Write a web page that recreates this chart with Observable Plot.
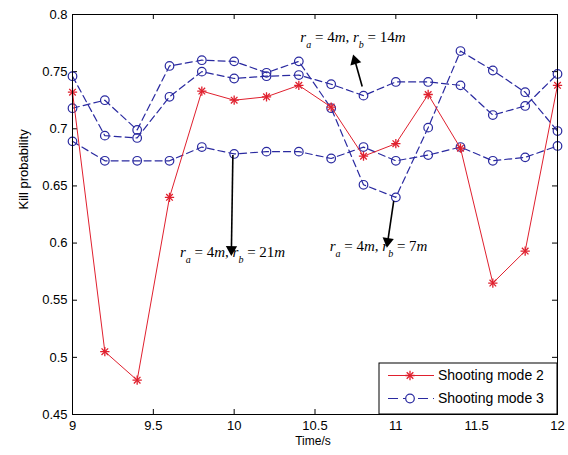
<!DOCTYPE html>
<html><head><meta charset="utf-8">
<script src="https://cdn.jsdelivr.net/npm/d3@7"></script>
<script src="https://cdn.jsdelivr.net/npm/@observablehq/plot@0.6"></script>
<style>html,body{margin:0;padding:0;background:#fff;} #chart{width:568px;height:455px;}</style>
</head><body><div id="chart"></div>
<script>
// ---- data ----
const times = [9, 9.2, 9.4, 9.6, 9.8, 10, 10.2, 10.4, 10.6, 10.8, 11, 11.2, 11.4, 11.6, 11.8, 12];
const mode2 = [0.732, 0.505, 0.480, 0.640, 0.733, 0.725, 0.728, 0.738, 0.719, 0.676, 0.687, 0.730, 0.683, 0.565, 0.593, 0.738];
const mode3_rb7 = [0.718, 0.725, 0.699, 0.755, 0.760, 0.759, 0.749, 0.759, 0.718, 0.651, 0.640, 0.701, 0.768, 0.751, 0.732, 0.698];
const mode3_rb14 = [0.746, 0.694, 0.692, 0.728, 0.750, 0.744, 0.746, 0.747, 0.739, 0.729, 0.741, 0.741, 0.738, 0.712, 0.720, 0.748];
const mode3_rb21 = [0.689, 0.672, 0.672, 0.672, 0.684, 0.678, 0.680, 0.680, 0.674, 0.684, 0.672, 0.677, 0.684, 0.672, 0.675, 0.685];
const xTicks = [9, 9.5, 10, 10.5, 11, 11.5, 12];
const yTicks = [0.45, 0.5, 0.55, 0.6, 0.65, 0.7, 0.75, 0.8];
const legendLabels = ["Shooting mode 2", "Shooting mode 3"];
const annRa = 4;
const annRb = [14, 21, 7];

// ---- layout / style ----
const W = 568, H = 455, mL = 72, mR = 11, mT = 14, mB = 41;
const plotW = W - mL - mR, plotH = H - mT - mB;
const RED = "#e0202e", BLUE = "#2a2aa0";

const rows2 = times.map((t, i) => ({t, v: mode2[i]}));
const rows3 = [
  ...times.map((t, i) => ({t, v: mode3_rb7[i], s: "rb7"})),
  ...times.map((t, i) => ({t, v: mode3_rb14[i], s: "rb14"})),
  ...times.map((t, i) => ({t, v: mode3_rb21[i], s: "rb21"}))
];
// annotation placement (data coordinates)
const annText = [
  {rb: annRb[0], x: 10.735, y: 0.780},
  {rb: annRb[1], x: 9.99, y: 0.592},
  {rb: annRb[2], x: 10.893, y: 0.597}
];
const annArrows = [
  {x1: 10.792, y1: 0.737, x2: 10.747, y2: 0.7595, rot: 344},
  {x1: 9.992, y1: 0.677, x2: 9.983, y2: 0.5945, rot: 181},
  {x1: 10.987, y1: 0.637, x2: 10.950, y2: 0.6015, rot: 188}
];
const fmt = d => String(d);

const svg = Plot.plot({
  width: W, height: H,
  marginLeft: mL, marginRight: mR, marginTop: mT, marginBottom: mB,
  x: {domain: [9, 12]},
  y: {domain: [0.45, 0.8]},
  style: {fontFamily: "'Liberation Sans', Arial, sans-serif", fontSize: "12px", background: "white", color: "black", overflow: "visible"},
  marks: [
    Plot.ruleX(xTicks, {insetTop: plotH - 5, stroke: "black"}),
    Plot.ruleX(xTicks, {insetBottom: plotH - 5, stroke: "black"}),
    Plot.ruleY(yTicks, {insetRight: plotW - 5, stroke: "black"}),
    Plot.ruleY(yTicks, {insetLeft: plotW - 5, stroke: "black"}),
    Plot.axisX(xTicks, {tickSize: 0, tickPadding: 6, label: null, tickFormat: fmt, fontSize: 13}),
    Plot.axisY(yTicks, {tickSize: 0, tickPadding: 5, label: null, tickFormat: fmt, fontSize: 13}),
    Plot.text(["Kill probability"], {frameAnchor: "left", rotate: -90, dx: -49, dy: -5, fontSize: 13}),
    Plot.text(["Time/s"], {frameAnchor: "bottom", lineAnchor: "top", dy: 22, dx: -2, fontSize: 12}),
    Plot.line(rows3, {x: "t", y: "v", z: "s", stroke: BLUE, strokeWidth: 1.2, strokeDasharray: "7,4"}),
    Plot.dot(rows3, {x: "t", y: "v", r: 4.3, stroke: BLUE, strokeWidth: 1.2, fill: "none"}),
    Plot.line(rows2, {x: "t", y: "v", stroke: RED, strokeWidth: 1}),
    Plot.dot(rows2, {x: "t", y: "v", symbol: "plus", r: 3.1, stroke: RED, strokeWidth: 1.3}),
    Plot.dot(rows2, {x: "t", y: "v", symbol: "times", r: 3.1, stroke: RED, strokeWidth: 1.3}),
    Plot.link(annArrows, {x1: "x1", y1: "y1", x2: "x2", y2: "y2", stroke: "black", strokeWidth: 1.6}),
    Plot.dot(annArrows, {x: "x2", y: "y2", symbol: "triangle", rotate: "rot", r: 4.2, fill: "black", stroke: "none"}),
    Plot.text(annText, {x: "x", y: "y", text: d => String(d.rb), ariaDescription: "annotation", fontFamily: "'Liberation Serif', 'Times New Roman', serif", fontSize: 15}),
    Plot.frame({stroke: "black", strokeWidth: 1})
  ]
});

// math-style annotation text: r_a = 4m, r_b = Nm
d3.select(svg).selectAll('g[aria-description="annotation"] text').each(function () {
  const rb = this.textContent;
  const t = d3.select(this);
  t.text(null);
  const parts = [
    ["r", true, false], ["a", true, true], [" = " + annRa, false, false], ["m", true, false], [", ", false, false],
    ["r", true, false], ["b", true, true], [" = " + rb, false, false], ["m", true, false]
  ];
  parts.forEach(([s, it, sub]) => {
    const ts = t.append("tspan").text(s).attr("font-style", it ? "italic" : "normal");
    if (sub) ts.attr("baseline-shift", "sub").attr("font-size", "10px");
  });
});

// legend box (inside plot, lower right)
const lg = d3.select(svg).append("g").attr("aria-label", "legend").attr("text-anchor", "start");
const lx = 379, ly = 363, lw = W - mR - lx, lh = H - mB - ly;
lg.append("rect").attr("x", lx).attr("y", ly).attr("width", lw).attr("height", lh)
  .attr("fill", "white").attr("stroke", "black").attr("stroke-width", 1);
const rowsY = [ly + 12.5, ly + 35.5];
// mode 2 sample
lg.append("line").attr("x1", lx + 9).attr("x2", lx + 55).attr("y1", rowsY[0]).attr("y2", rowsY[0]).attr("stroke", RED).attr("stroke-width", 1);
[d3.symbolPlus, d3.symbolTimes].forEach(sym => {
  lg.append("path").attr("d", d3.symbol(sym, Math.PI * 3.1 * 3.1)())
    .attr("transform", `translate(${lx + 31},${rowsY[0]})`).attr("stroke", RED).attr("stroke-width", 1.3).attr("fill", "none");
});
// mode 3 sample
lg.append("line").attr("x1", lx + 9).attr("x2", lx + 55).attr("y1", rowsY[1]).attr("y2", rowsY[1])
  .attr("stroke", BLUE).attr("stroke-width", 1.2).attr("stroke-dasharray", "10,5");
lg.append("circle").attr("cx", lx + 31).attr("cy", rowsY[1]).attr("r", 4.3).attr("fill", "white").attr("stroke", BLUE).attr("stroke-width", 1.2);
legendLabels.forEach((s, i) => {
  lg.append("text").attr("x", lx + 59).attr("y", rowsY[i]).attr("dy", "0.35em")
    .attr("font-size", 14).attr("fill", "black").attr("text-anchor", "start").text(s);
});

document.getElementById("chart").appendChild(svg);
</script>
</body></html>
